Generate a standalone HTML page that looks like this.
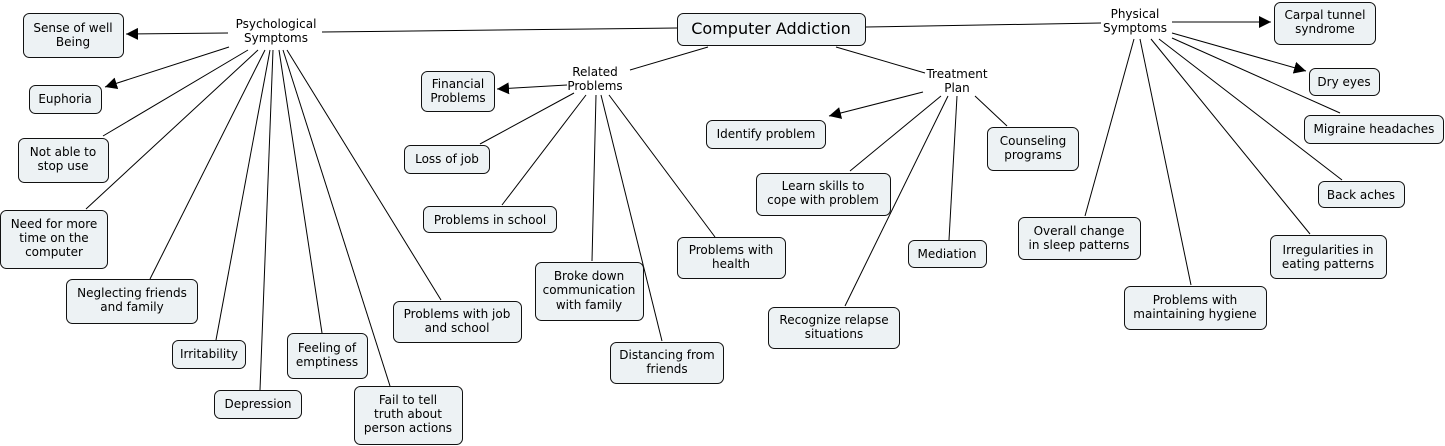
<!DOCTYPE html>
<html><head><meta charset="utf-8"><style>
html,body{margin:0;padding:0;background:#fff;width:1445px;height:446px;overflow:hidden}
svg{display:block}
text{font-family:"DejaVu Sans","Liberation Sans",sans-serif;font-size:12px;fill:#000;text-anchor:middle}
rect{fill:#edf2f4;stroke:#111;stroke-width:1}
line{stroke:#000;stroke-width:1}
</style></head><body>
<svg width="1445" height="446" viewBox="0 0 1445 446" xmlns="http://www.w3.org/2000/svg">
<defs><marker id="a" viewBox="0 0 10 10" refX="10" refY="5" markerWidth="12" markerHeight="12" markerUnits="userSpaceOnUse" orient="auto"><path d="M0,0L10,5L0,10z" fill="#000"/></marker></defs>
<!-- lines -->
<line x1="322" y1="32" x2="677" y2="28" stroke="#444"/>
<line x1="708" y1="47" x2="630" y2="70"/>
<line x1="836" y1="47" x2="925" y2="73"/>
<line x1="866" y1="27" x2="1101" y2="23" stroke="#444"/>

<line x1="228" y1="33" x2="126" y2="34" marker-end="url(#a)"/>
<line x1="229" y1="47" x2="105" y2="87" marker-end="url(#a)"/>
<line x1="248" y1="50" x2="103" y2="136"/>
<line x1="258" y1="50" x2="86" y2="209"/>
<line x1="265" y1="50" x2="150" y2="279"/>
<line x1="270" y1="50" x2="216" y2="340"/>
<line x1="273" y1="50" x2="260" y2="390"/>
<line x1="279" y1="50" x2="322" y2="333"/>
<line x1="283" y1="50" x2="390" y2="386"/>
<line x1="287" y1="50" x2="441" y2="300"/>

<line x1="567" y1="85" x2="497" y2="89" marker-end="url(#a)"/>
<line x1="574" y1="93" x2="480" y2="144"/>
<line x1="586" y1="95" x2="502" y2="205"/>
<line x1="596" y1="95" x2="592" y2="261"/>
<line x1="601" y1="95" x2="662" y2="341"/>
<line x1="609" y1="95" x2="715" y2="237"/>

<line x1="923" y1="92" x2="829" y2="116" marker-end="url(#a)"/>
<line x1="941" y1="96" x2="850" y2="171"/>
<line x1="948" y1="96" x2="845" y2="306"/>
<line x1="957" y1="96" x2="949" y2="240"/>
<line x1="975" y1="96" x2="1007" y2="126"/>

<line x1="1172" y1="22" x2="1271" y2="22" marker-end="url(#a)"/>
<line x1="1172" y1="33" x2="1306" y2="71" marker-end="url(#a)"/>
<line x1="1172" y1="38" x2="1340" y2="113"/>
<line x1="1159" y1="39" x2="1342" y2="180"/>
<line x1="1151" y1="39" x2="1310" y2="234"/>
<line x1="1140" y1="39" x2="1191" y2="285"/>
<line x1="1134" y1="39" x2="1085" y2="216"/>

<!-- linking phrases -->
<text x="276" y="28">Psychological</text><text x="276" y="42">Symptoms</text>
<text x="595" y="76">Related</text><text x="595" y="90">Problems</text>
<text x="957" y="78">Treatment</text><text x="957" y="92">Plan</text>
<text x="1135" y="18">Physical</text><text x="1135" y="32">Symptoms</text>

<!-- main -->
<rect x="677.5" y="13.5" width="188" height="32" rx="6"/>
<text x="771" y="34" style="font-size:16px">Computer Addiction</text>

<rect x="23.5" y="13.5" width="100" height="44" rx="6"/><text x="73" y="32">Sense of well</text><text x="73" y="46">Being</text>
<rect x="29.5" y="85.5" width="72" height="28" rx="6"/><text x="65" y="103">Euphoria</text>
<rect x="18.5" y="138.5" width="90" height="44" rx="6"/><text x="63" y="156">Not able to</text><text x="63" y="170">stop use</text>
<rect x="0.5" y="210.5" width="107" height="58" rx="6"/><text x="54" y="228">Need for more</text><text x="54" y="242">time on the</text><text x="54" y="256">computer</text>
<rect x="66.5" y="279.5" width="131" height="44" rx="6"/><text x="132" y="297">Neglecting friends</text><text x="132" y="311">and family</text>
<rect x="172.5" y="340.5" width="73" height="28" rx="6"/><text x="209" y="358">Irritability</text>
<rect x="214.5" y="390.5" width="87" height="28" rx="6"/><text x="258" y="408">Depression</text>
<rect x="287.5" y="333.5" width="80" height="45" rx="6"/><text x="327" y="352">Feeling of</text><text x="327" y="366">emptiness</text>
<rect x="354.5" y="386.5" width="108" height="58" rx="6"/><text x="408" y="404">Fail to tell</text><text x="408" y="418">truth about</text><text x="408" y="432">person actions</text>
<rect x="393.5" y="301.5" width="128" height="41" rx="6"/><text x="457" y="318">Problems with job</text><text x="457" y="332">and school</text>

<rect x="421.5" y="71.5" width="73" height="40" rx="6"/><text x="458" y="88">Financial</text><text x="458" y="102">Problems</text>
<rect x="404.5" y="145.5" width="85" height="28" rx="6"/><text x="447" y="163">Loss of job</text>
<rect x="423.5" y="206.5" width="133" height="26" rx="6"/><text x="490" y="224">Problems in school</text>
<rect x="535.5" y="262.5" width="108" height="58" rx="6"/><text x="589" y="280">Broke down</text><text x="589" y="294">communication</text><text x="589" y="309">with family</text>
<rect x="610.5" y="342.5" width="113" height="41" rx="6"/><text x="667" y="359">Distancing from</text><text x="667" y="373">friends</text>
<rect x="677.5" y="237.5" width="108" height="41" rx="6"/><text x="731" y="254">Problems with</text><text x="731" y="268">health</text>

<rect x="706.5" y="120.5" width="119" height="28" rx="6"/><text x="766" y="138">Identify problem</text>
<rect x="756.5" y="173.5" width="134" height="42" rx="6"/><text x="823" y="190">Learn skills to</text><text x="823" y="204">cope with problem</text>
<rect x="908.5" y="240.5" width="78" height="27" rx="6"/><text x="947" y="258">Mediation</text>
<rect x="987.5" y="127.5" width="91" height="43" rx="6"/><text x="1033" y="145">Counseling</text><text x="1033" y="159">programs</text>
<rect x="768.5" y="307.5" width="131" height="41" rx="6"/><text x="834" y="324">Recognize relapse</text><text x="834" y="338">situations</text>

<rect x="1274.5" y="2.5" width="101" height="42" rx="6"/><text x="1325" y="19">Carpal tunnel</text><text x="1325" y="33">syndrome</text>
<rect x="1309.5" y="68.5" width="70" height="27" rx="6"/><text x="1344" y="86">Dry eyes</text>
<rect x="1304.5" y="115.5" width="139" height="28" rx="6"/><text x="1374" y="133">Migraine headaches</text>
<rect x="1318.5" y="181.5" width="86" height="26" rx="6"/><text x="1361" y="199">Back aches</text>
<rect x="1270.5" y="235.5" width="116" height="43" rx="6"/><text x="1328" y="254">Irregularities in</text><text x="1328" y="268">eating patterns</text>
<rect x="1018.5" y="217.5" width="122" height="42" rx="6"/><text x="1079" y="235">Overall change</text><text x="1079" y="249">in sleep patterns</text>
<rect x="1124.5" y="286.5" width="142" height="43" rx="6"/><text x="1195" y="304">Problems with</text><text x="1195" y="318">maintaining hygiene</text>
</svg>
</body></html>
